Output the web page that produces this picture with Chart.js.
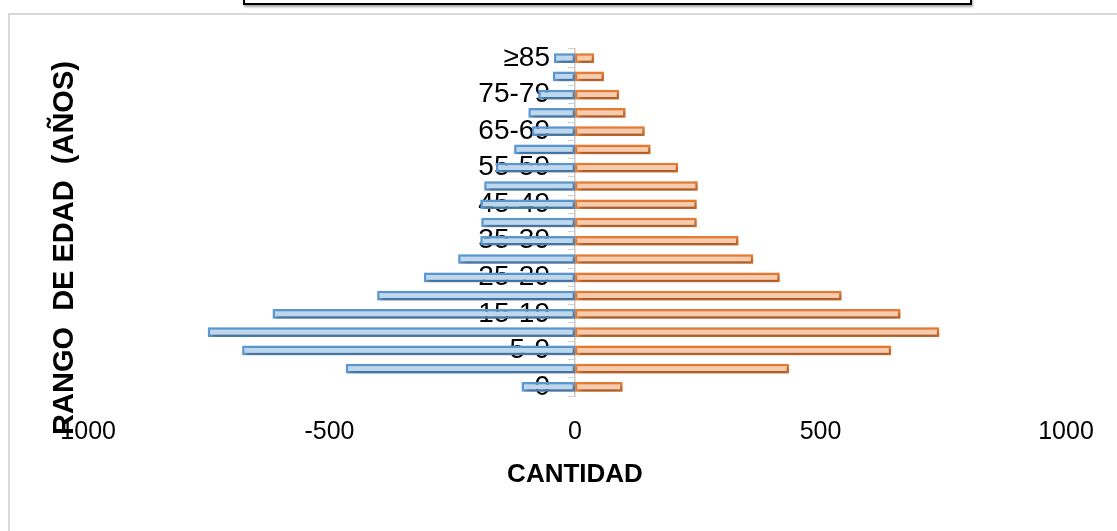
<!DOCTYPE html>
<html lang="es">
<head>
    <meta charset="UTF-8">
    <title>Pirámide de población</title>
    <script src="https://cdn.jsdelivr.net/npm/chart.js@4"></script>
    <style>
        body {
            margin: 0;
            padding: 0;
            background: #ffffff;
            width: 1117px;
            height: 531px;
            overflow: hidden;
            position: relative;
            font-family: "Liberation Sans", Arial, sans-serif;
        }
        .marco {
            position: absolute;
            left: 8px;
            top: 13px;
            width: 1130px;
            height: 540px;
            border: 2px solid #d9d9d9;
        }
        .caja-titulo {
            position: absolute;
            left: 243px;
            top: -20px;
            width: 725px;
            height: 21px;
            border: 2px solid #000;
            box-shadow: 1px 2px 2px rgba(0, 0, 0, 0.35);
            background: #fff;
        }
        canvas {
            position: absolute;
            left: 0;
            top: 0;
        }
    </style>
</head>
<body>
    <div class="marco"></div>
    <div class="caja-titulo"></div>
    <canvas id="piramide" width="1117" height="531"></canvas>

    <script>
        // Rangos de edad (de abajo hacia arriba)
        const rangos = ['0', '1-4', '5-9', '10-14', '15-19', '20-24', '25-29', '30-34', '35-39', '40-44',
                        '45-49', '50-54', '55-59', '60-64', '65-69', '70-74', '75-79', '80-84', '≥85'];

        // Hombres (negativos, a la izquierda)
        const hombres = [-109, -467, -678, -748, -616, -403, -308, -238, -193, -191,
                         -193, -185, -161, -124, -88, -95, -75, -45, -43];

        // Mujeres (positivos, a la derecha)
        const mujeres = [97, 436, 644, 742, 663, 543, 417, 363, 333, 248,
                         248, 250, 210, 154, 142, 103, 90, 59, 39];

        // Eje horizontal
        const valoresX = [-1000, -500, 0, 500, 1000];
        const etiquetasX = ['-1000', '-500', '0', '500', '1000'];

        const tituloX = 'CANTIDAD';
        const tituloY = 'RANGO  DE EDAD  (AÑOS)';

        const fuente = '"Liberation Sans", Arial, sans-serif';

        // Sombra de las barras (estilo Excel)
        const sombraBarras = {
            id: 'sombraBarras',
            beforeDatasetsDraw(chart) {
                const ctx = chart.ctx;
                ctx.save();
                ctx.shadowColor = 'rgba(0, 0, 0, 0.4)';
                ctx.shadowBlur = 4;
                ctx.shadowOffsetX = 2;
                ctx.shadowOffsetY = 2;
            },
            afterDatasetsDraw(chart) {
                chart.ctx.restore();
            }
        };

        // Título vertical del eje Y
        const tituloEjeY = {
            id: 'tituloEjeY',
            afterDraw(chart) {
                const ctx = chart.ctx;
                ctx.save();
                ctx.translate(65, 248);
                ctx.rotate(-Math.PI / 2);
                ctx.font = 'bold 29px ' + fuente;
                ctx.fillStyle = '#000';
                ctx.textAlign = 'center';
                ctx.textBaseline = 'middle';
                ctx.fillText(tituloY, 0, 0);
                ctx.restore();
            }
        };

        const ctx = document.getElementById('piramide').getContext('2d');
        new Chart(ctx, {
            type: 'bar',
            data: {
                labels: rangos,
                datasets: [{
                    label: 'Hombres',
                    data: hombres,
                    backgroundColor: '#bdd7ee',
                    borderColor: '#5b9bd5',
                    borderWidth: 2.5,
                    borderSkipped: false,
                    barPercentage: 0.53,
                    categoryPercentage: 1
                }, {
                    label: 'Mujeres',
                    data: mujeres,
                    backgroundColor: '#f8cbad',
                    borderColor: '#ed7d31',
                    borderWidth: 2.5,
                    borderSkipped: false,
                    barPercentage: 0.53,
                    categoryPercentage: 1
                }]
            },
            options: {
                indexAxis: 'y',
                responsive: false,
                animation: false,
                layout: {
                    padding: { left: 84, right: 51, top: 49, bottom: 41 }
                },
                plugins: {
                    legend: { display: false },
                    tooltip: { enabled: false }
                },
                scales: {
                    x: {
                        type: 'linear',
                        stacked: true,
                        min: valoresX[0],
                        max: valoresX[valoresX.length - 1],
                        afterFit(scale) { scale.height = 94; },
                        afterBuildTicks(scale) {
                            scale.ticks = valoresX.map(v => ({ value: v }));
                        },
                        ticks: {
                            color: '#000',
                            padding: 21,
                            maxRotation: 0,
                            font: { family: fuente, size: 25 },
                            callback(value) {
                                return etiquetasX[valoresX.indexOf(value)];
                            }
                        },
                        grid: { display: false, drawTicks: false },
                        border: { display: false },
                        title: {
                            display: true,
                            text: tituloX,
                            color: '#000',
                            padding: { top: 12, bottom: 0 },
                            font: { family: fuente, size: 26, weight: 'bold' }
                        }
                    },
                    // Línea del cero con marcas entre categorías
                    y: {
                        type: 'category',
                        stacked: true,
                        reverse: true,
                        position: { x: 0 },
                        ticks: { autoSkip: false, display: false },
                        grid: {
                            offset: true,
                            drawOnChartArea: false,
                            drawTicks: true,
                            tickLength: 6,
                            color: '#d0d0d0'
                        },
                        border: { display: true, color: '#c8c8c8', width: 1.5 }
                    },
                    // Etiquetas de los rangos, delante de las barras
                    yEtiquetas: {
                        type: 'category',
                        axis: 'y',
                        labels: rangos,
                        reverse: true,
                        offset: true,
                        position: { x: -51 },
                        z: 1,
                        ticks: {
                            autoSkip: false,
                            color: '#000',
                            font: { family: fuente, size: 28 },
                            callback(value, index) {
                                return index % 2 === 0 ? rangos[index] : '';
                            }
                        },
                        grid: { display: false },
                        border: { display: false }
                    }
                }
            },
            plugins: [sombraBarras, tituloEjeY]
        });
    </script>
</body>
</html>
